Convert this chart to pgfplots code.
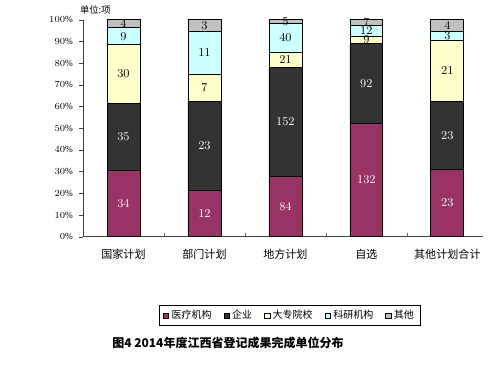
\documentclass[border=0pt]{standalone}
\usepackage{pgfplots}
\pgfplotsset{compat=1.18}
\usepackage{pgfplotstable}
\usepackage{fontspec}
\setmainfont{Liberation Serif}
\newfontfamily\cjk{Noto Sans CJK SC}
\definecolor{cmed}{HTML}{993366}
\definecolor{cent}{HTML}{333333}
\definecolor{cuni}{HTML}{FFFFCC}
\definecolor{cres}{HTML}{CCFFFF}
\definecolor{coth}{HTML}{C0C0C0}
\pgfplotstableread{
x a b c d e tot
0 34 35 30 9 4 112
1 12 23 7 11 3 56
2 84 152 21 40 5 302
3 132 92 9 12 7 252
4 23 23 21 3 4 74
}\datatab
\begin{document}
\begin{tikzpicture}
\path[use as bounding box] (0,0) rectangle (375pt,278.25pt);
\begin{axis}[
  at={(62.25pt,100.7pt)}, anchor=south west,
  scale only axis, width=300pt, height=162.8pt,
  ybar stacked, bar width=0.407,
  xmin=-0.5, xmax=4.44, ymin=0, ymax=100,
  axis x line*=bottom, axis y line*=left,
  axis line style={-, draw=black!75},
  ytick={0,10,...,100},
  yticklabel={\pgfmathprintnumber{\tick}\%},
  yticklabel style={font=\fontsize{7}{7}\selectfont},
  ytick style={draw=black!75},
  y tick label style={xshift=-1pt},
  xtick={0.5,1.5,2.5,3.5},
  xticklabels={},
  x tick style={draw=black!60, yshift=0pt},
  xtick align=inside, ytick align=outside,
  major tick length=3pt,
  extra x ticks={0,1,2,3,4},
  extra x tick labels={国家计划,部门计划,地方计划,自选,其他计划合计},
  extra x tick style={major tick length=0pt, tick label style={font=\cjk\fontsize{8.3}{9}\selectfont, yshift=-6pt}},
  legend style={at={(0.517,-0.363)}, anchor=center, draw=black, legend columns=5,
    font=\cjk\fontsize{7.5}{8}\selectfont, inner xsep=3pt, inner ysep=1.5pt,
    /tikz/every even column/.append style={column sep=7pt}},
  legend image code/.code={\draw[#1,draw=black,line width=0.4pt] (0pt,-2pt) rectangle (4pt,2pt);},
  legend cell align=left,
]
\addplot[fill=cmed, draw=black, line width=0.6pt] table[x=x, y expr=\thisrow{a}/\thisrow{tot}*100] {\datatab};
\addplot[fill=cent, draw=black, line width=0.6pt] table[x=x, y expr=\thisrow{b}/\thisrow{tot}*100] {\datatab};
\addplot[fill=cuni, draw=black, line width=0.6pt] table[x=x, y expr=\thisrow{c}/\thisrow{tot}*100] {\datatab};
\addplot[fill=cres, draw=black, line width=0.6pt] table[x=x, y expr=\thisrow{d}/\thisrow{tot}*100] {\datatab};
\addplot[fill=coth, draw=black, line width=0.6pt] table[x=x, y expr=\thisrow{e}/\thisrow{tot}*100] {\datatab};
\legend{医疗机构,企业,大专院校,科研机构,其他}
\end{axis}
\begin{axis}[
  at={(62.25pt,100.7pt)}, anchor=south west,
  scale only axis, width=300pt, height=162.8pt,
  xmin=-0.5, xmax=4.44, ymin=0, ymax=100,
  hide axis, clip=false,
  nodes near coords, point meta=explicit,
  every node near coord/.append style={anchor=center, font=\fontsize{9.5}{9.5}\selectfont, inner sep=0pt},
]
\addplot[draw=none, mark=none, every node near coord/.append style={text=white}] table[x=x, y expr=\thisrow{a}/2/\thisrow{tot}*100, meta=a] {\datatab};
\addplot[draw=none, mark=none, every node near coord/.append style={text=white}] table[x=x, y expr=(\thisrow{a}+\thisrow{b}/2)/\thisrow{tot}*100, meta=b] {\datatab};
\addplot[draw=none, mark=none, every node near coord/.append style={text=black}] table[x=x, y expr=(\thisrow{a}+\thisrow{b}+\thisrow{c}/2)/\thisrow{tot}*100, meta=c] {\datatab};
\addplot[draw=none, mark=none, every node near coord/.append style={text=black}] table[x=x, y expr=(\thisrow{a}+\thisrow{b}+\thisrow{c}+\thisrow{d}/2)/\thisrow{tot}*100, meta=d] {\datatab};
\addplot[draw=none, mark=none, every node near coord/.append style={text=black}] table[x=x, y expr=(\thisrow{a}+\thisrow{b}+\thisrow{c}+\thisrow{d}+\thisrow{e}/2)/\thisrow{tot}*100, meta=e] {\datatab};
\end{axis}
\node[anchor=center, font=\cjk\fontsize{7}{7}\selectfont] at (71.5pt,270.5pt) {单位:项};
\node[anchor=west, font=\cjk\bfseries\fontsize{9}{9}\selectfont, inner sep=0pt] at (84pt,21pt) {图4 2014年度江西省登记成果完成单位分布};
\end{tikzpicture}
\end{document}
